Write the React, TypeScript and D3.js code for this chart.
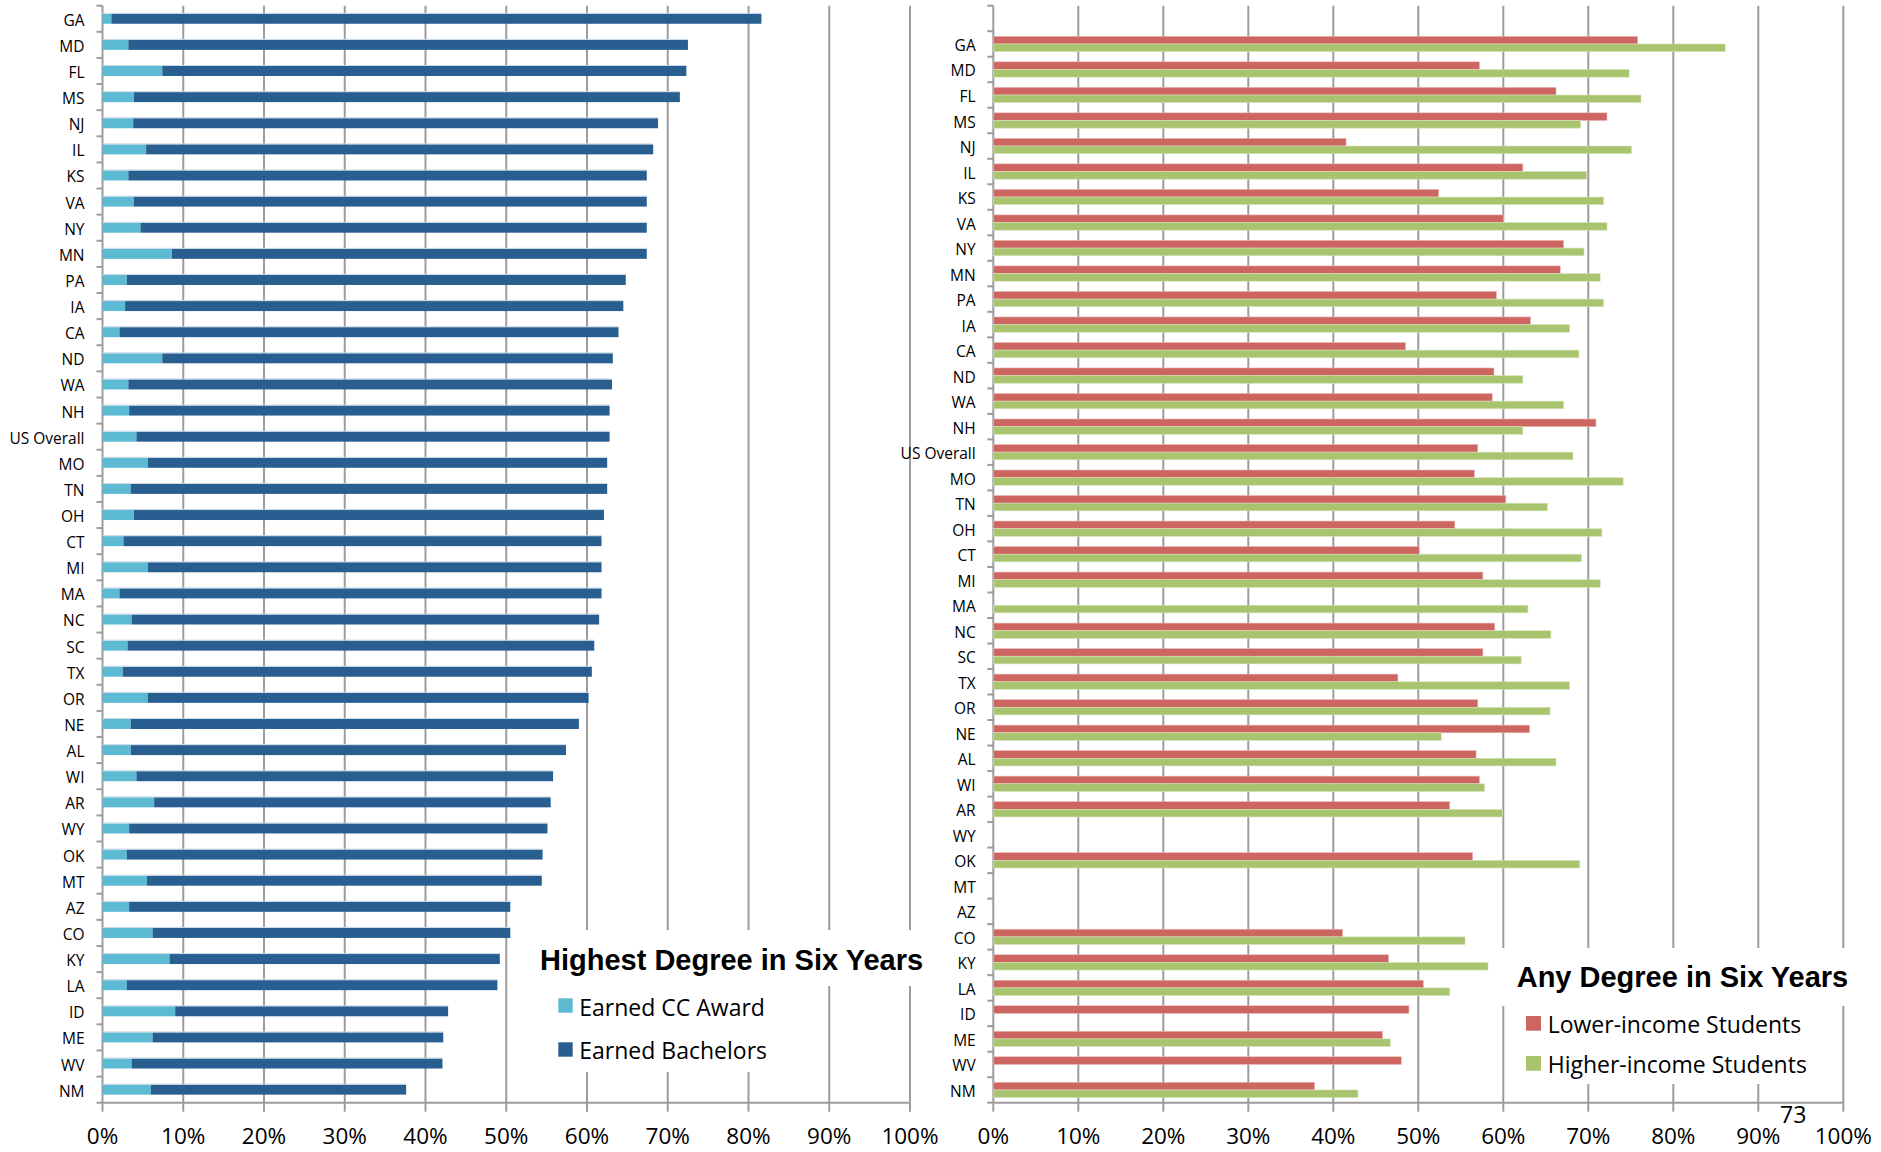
import React from "react";
import * as d3 from "d3";

// ---------- data ----------
const states = [
  "GA", "MD", "FL", "MS", "NJ", "IL", "KS", "VA", "NY", "MN", "PA", "IA", "CA", "ND",
  "WA", "NH", "US Overall", "MO", "TN", "OH", "CT", "MI", "MA", "NC", "SC", "TX", "OR",
  "NE", "AL", "WI", "AR", "WY", "OK", "MT", "AZ", "CO", "KY", "LA", "ID", "ME", "WV", "NM",
];

// Left chart: Highest Degree in Six Years (stacked, %)
const ccAward = [
  1.1, 3.2, 7.4, 3.9, 3.8, 5.4, 3.2, 3.9, 4.7, 8.6, 3.0, 2.8, 2.1, 7.4,
  3.2, 3.3, 4.2, 5.6, 3.5, 3.9, 2.6, 5.6, 2.1, 3.6, 3.1, 2.5, 5.6,
  3.5, 3.5, 4.2, 6.4, 3.3, 3.0, 5.5, 3.3, 6.2, 8.3, 3.0, 9.0, 6.2, 3.6, 6.0,
];
const bachelors = [
  80.5, 69.3, 64.9, 67.6, 65.0, 62.8, 64.2, 63.5, 62.7, 58.8, 61.8, 61.7, 61.8, 55.8,
  59.9, 59.5, 58.6, 56.9, 59.0, 58.2, 59.2, 56.2, 59.7, 57.9, 57.8, 58.1, 54.6,
  55.5, 53.9, 51.6, 49.1, 51.8, 51.5, 48.9, 47.2, 44.3, 40.9, 45.9, 33.8, 36.0, 38.5, 31.6,
];

// Right chart: Any Degree in Six Years (%), null = no data
const lowerIncome: (number | null)[] = [
  75.8, 57.2, 66.2, 72.2, 41.5, 62.3, 52.4, 60.0, 67.1, 66.7, 59.2, 63.2, 48.5, 58.9,
  58.7, 70.9, 57.0, 56.6, 60.3, 54.3, 50.1, 57.6, null, 59.0, 57.6, 47.6, 57.0,
  63.1, 56.8, 57.2, 53.7, null, 56.4, null, null, 41.1, 46.5, 50.6, 48.9, 45.8, 48.0, 37.8,
];
const higherIncome: (number | null)[] = [
  86.1, 74.8, 76.2, 69.1, 75.1, 69.8, 71.8, 72.2, 69.5, 71.4, 71.8, 67.8, 68.9, 62.3,
  67.1, 62.3, 68.2, 74.1, 65.2, 71.6, 69.2, 71.4, 62.9, 65.6, 62.1, 67.8, 65.5,
  52.7, 66.2, 57.8, 59.9, null, 69.0, null, null, 55.5, 58.2, 53.7, null, 46.7, null, 42.9,
];

const xTicks = [0, 10, 20, 30, 40, 50, 60, 70, 80, 90, 100];
const leftSeries = ["Earned CC Award", "Earned Bachelors"];
const rightSeries = ["Lower-income Students", "Higher-income Students"];
const leftTitle = "Highest Degree in Six Years";
const rightTitle = "Any Degree in Six Years";
const pageNumber = "73";

// ---------- styles ----------
const C_CC = "#5cbad3";
const C_BA = "#295e91";
const C_LOW = "#cd6661";
const C_HIGH = "#a9c46e";
const GRID = "#9c9c9c";
const FONT = "'Open Sans', 'DejaVu Sans', sans-serif";
const BOLD = "'Liberation Sans', Arial, sans-serif";

const W = 1881;
const H = 1152;
const TOP = 5.7;
const BOTTOM = 1102.7;

function Axes({ x, y, x0, x1, domain }: any) {
  const boundaries = d3.range(domain.length + 1).map((i) => TOP + i * y.step());
  return (
    <g>
      {xTicks.filter((t) => t > 0).map((t) => (
        <line key={"g" + t} x1={x(t)} x2={x(t)} y1={TOP} y2={BOTTOM} stroke={GRID} strokeWidth={2} />
      ))}
      <line x1={x0} x2={x0} y1={TOP} y2={BOTTOM} stroke={GRID} strokeWidth={2} />
      <line x1={x0} x2={x1} y1={BOTTOM} y2={BOTTOM} stroke={GRID} strokeWidth={2} />
      {boundaries.map((b: number, i: number) => (
        <line key={"yt" + i} x1={x0 - 6} x2={x0} y1={b} y2={b} stroke={GRID} strokeWidth={2} />
      ))}
      {xTicks.map((t) => (
        <line key={"xt" + t} x1={x(t)} x2={x(t)} y1={BOTTOM} y2={BOTTOM + 9} stroke={GRID} strokeWidth={2} />
      ))}
      {xTicks.map((t) => (
        <text key={"xl" + t} x={x(t)} y={1144} textAnchor="middle" fontFamily={FONT} fontSize={22.5} fill="#000">
          {t + "%"}
        </text>
      ))}
    </g>
  );
}

function LeftChart() {
  const x0 = 102.5;
  const x1 = 910;
  const x = d3.scaleLinear().domain([0, 100]).range([x0, x1]);
  const y = d3.scaleBand().domain(states).range([TOP, BOTTOM]).paddingInner(0.617).paddingOuter(0.3085);
  return (
    <g>
      <Axes x={x} y={y} x0={x0} x1={x1} domain={states} />
      {states.map((s, i) => {
        const yy = y(s)!;
        const h = y.bandwidth();
        return (
          <g key={s}>
            <rect x={x(0)} y={yy} width={x(ccAward[i]) - x(0)} height={h} fill={C_CC} />
            <rect x={x(ccAward[i])} y={yy} width={x(ccAward[i] + bachelors[i]) - x(ccAward[i])} height={h} fill={C_BA} />
            <line x1={x(0)} x2={x(ccAward[i] + bachelors[i])} y1={yy - 0.5} y2={yy - 0.5} stroke="#c8d8e6" strokeWidth={1} />
          </g>
        );
      })}
      {states.map((s) => (
        <text key={"l" + s} x={84.5} y={y(s)! + y.bandwidth() / 2 + 1} textAnchor="end" dominantBaseline="central"
          fontFamily={FONT} fontSize={15.5} fill="#000">
          {s}
        </text>
      ))}
      {/* legend */}
      <rect x={533} y={930} width={400} height={56} fill="#fff" />
      <rect x={540} y={986} width={250} height={86} fill="#fff" />
      <text x={540} y={970} fontFamily={BOLD} fontWeight="bold" fontSize={29} fill="#000">{leftTitle}</text>
      {leftSeries.map((name, i) => (
        <g key={name}>
          <rect x={558.3} y={998.3 + i * 44} width={14.4} height={14.4} fill={i === 0 ? C_CC : C_BA} />
          <text x={579.3} y={1015.7 + i * 43.3} fontFamily={FONT} fontSize={23} fill="#000">{name}</text>
        </g>
      ))}
    </g>
  );
}

function RightChart() {
  const x0 = 993.3;
  const x1 = 1843.3;
  const domain = ["__blank__", ...states];
  const x = d3.scaleLinear().domain([0, 100]).range([x0, x1]);
  const y = d3.scaleBand().domain(domain).range([TOP, BOTTOM]).paddingInner(0.4).paddingOuter(0.2);
  const sub = d3.scaleBand().domain(["low", "high"]).range([0, y.bandwidth()]);
  return (
    <g>
      <Axes x={x} y={y} x0={x0} x1={x1} domain={domain} />
      {states.map((s, i) => {
        const yy = y(s)!;
        const lo = lowerIncome[i];
        const hi = higherIncome[i];
        return (
          <g key={s}>
            {lo != null && (
              <rect x={x(0)} y={yy + sub("low")!} width={x(lo) - x(0)} height={sub.bandwidth()} fill={C_LOW}
                stroke="#e8b8b5" strokeWidth={0.6} />
            )}
            {hi != null && (
              <rect x={x(0)} y={yy + sub("high")!} width={x(hi) - x(0)} height={sub.bandwidth()} fill={C_HIGH}
                stroke="#d6e3bd" strokeWidth={0.6} />
            )}
          </g>
        );
      })}
      {states.map((s) => (
        <text key={"l" + s} x={975.7} y={y(s)! + y.bandwidth() / 2 + 1} textAnchor="end" dominantBaseline="central"
          fontFamily={FONT} fontSize={15.5} fill="#000">
          {s}
        </text>
      ))}
      {/* legend */}
      <rect x={1495} y={948} width={370} height={58} fill="#fff" />
      <rect x={1512} y={1006} width={308} height={78} fill="#fff" />
      <text x={1516.7} y={987.3} fontFamily={BOLD} fontWeight="bold" fontSize={29} fill="#000">{rightTitle}</text>
      {rightSeries.map((name, i) => (
        <g key={name}>
          <rect x={1526} y={1016 + i * 40} width={15} height={14.7} fill={i === 0 ? C_LOW : C_HIGH} />
          <text x={1547.7} y={1033.3 + i * 40} fontFamily={FONT} fontSize={23} fill="#000">{name}</text>
        </g>
      ))}
      <text x={1780} y={1123} fontFamily={FONT} fontSize={23} fill="#000">{pageNumber}</text>
    </g>
  );
}

export default function App() {
  return (
    <svg width={W} height={H} viewBox={`0 0 ${W} ${H}`}
      style={{ position: "absolute", left: 0, top: 0, display: "block", background: "#fff" }}>
      <rect x={0} y={0} width={W} height={H} fill="#fff" />
      <LeftChart />
      <RightChart />
    </svg>
  );
}
